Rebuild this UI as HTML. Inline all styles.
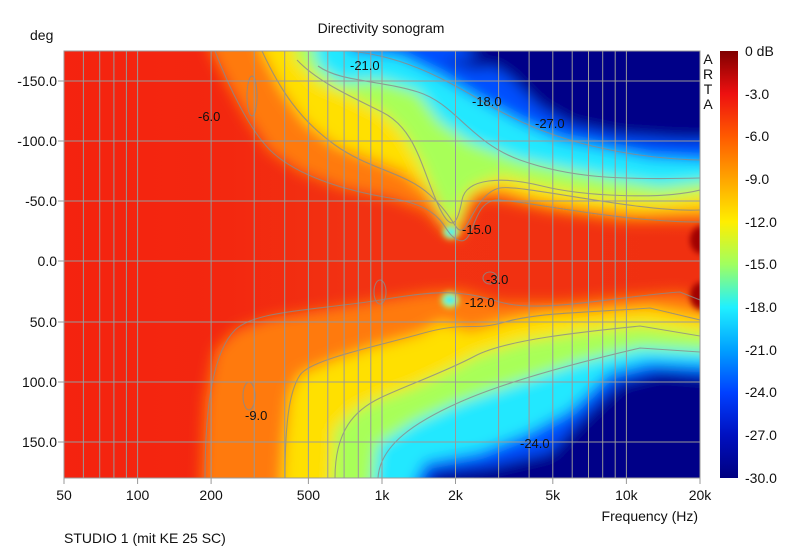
<!DOCTYPE html>
<html><head><meta charset="utf-8"><style>
html,body{margin:0;padding:0;background:#fff;}
svg{display:block;font-family:"Liberation Sans",sans-serif;}
</style></head><body>
<svg width="799" height="550" viewBox="0 0 799 550" xmlns="http://www.w3.org/2000/svg">
<defs>
<clipPath id="pc"><rect x="64" y="51" width="636" height="427"/></clipPath>
<filter id="b" x="-20%" y="-20%" width="140%" height="140%"><feGaussianBlur stdDeviation="7"/></filter>
<filter id="b2" x="-50%" y="-50%" width="200%" height="200%"><feGaussianBlur stdDeviation="3"/></filter>
<linearGradient id="bg" x1="0" x2="1" y1="0" y2="0">
<stop offset="0" stop-color="#f5220f"/><stop offset="0.25" stop-color="#f3270f"/><stop offset="0.45" stop-color="#f23212"/><stop offset="1" stop-color="#f03010"/>
</linearGradient>
<linearGradient id="cb" x1="0" x2="0" y1="0" y2="1">
<stop offset="0" stop-color="#800000"/><stop offset="0.1" stop-color="#ee1010"/><stop offset="0.2" stop-color="#ff5a00"/><stop offset="0.3" stop-color="#ffa500"/><stop offset="0.4" stop-color="#ffee00"/><stop offset="0.5" stop-color="#a0ff60"/><stop offset="0.6" stop-color="#20f0ff"/><stop offset="0.7" stop-color="#00a0ff"/><stop offset="0.8" stop-color="#0040ff"/><stop offset="0.9" stop-color="#0010c0"/><stop offset="1" stop-color="#000080"/>
</linearGradient>
</defs>
<g clip-path="url(#pc)">
<rect x="40" y="30" width="700" height="470" fill="url(#bg)"/>
<g filter="url(#b)">
<polygon fill="#ff7a0a" points="205,20 210,51 225,80 245,115 268,150 300,172 340,188 390,198 425,212 445,232 458,240 466,220 475,198 500,200 550,212 620,222 700,222 730,222 730,20"/>
<polygon fill="#ff7a0a" points="200,510 205,400 215,350 235,330 270,318 320,310 380,300 430,292 460,290 500,302 560,302 620,296 680,292 730,308 730,510"/>
<polygon fill="#ffe000" points="255,20 262,51 282,90 305,122 335,145 375,160 405,172 430,195 447,228 460,232 466,212 478,192 500,188 535,200 585,208 640,213 700,210 730,210 730,20"/>
<polygon fill="#ffe000" points="280,510 285,440 290,395 300,375 330,362 370,348 420,334 442,322 470,332 505,322 545,314 600,312 650,308 730,322 730,510"/>
<polygon fill="#a8ff58" points="290,20 297,60 318,82 350,96 382,112 402,132 420,162 436,200 450,226 458,222 462,200 474,186 502,176 542,186 600,196 660,200 730,190 730,20"/>
<polygon fill="#a8ff58" points="330,510 335,430 355,410 380,398 410,388 445,372 475,356 520,342 580,332 640,326 730,336 730,510"/>
<polygon fill="#20e8ff" points="308,20 318,66 340,82 380,80 418,92 440,122 470,142 520,160 570,170 620,180 660,186 730,178 730,20"/>
<polygon fill="#20e8ff" points="370,510 378,445 415,422 460,402 520,382 580,362 640,348 730,352 730,510"/>
<polygon fill="#0050ff" points="340,20 350,51 400,56 440,76 480,100 520,122 560,140 610,150 650,158 730,162 730,20"/>
<polygon fill="#0050ff" points="400,510 425,462 480,452 530,432 570,410 610,372 650,362 730,366 730,510"/>
<polygon fill="#000088" points="440,20 470,51 510,78 540,108 572,126 620,136 680,140 730,140 730,20"/>
<polygon fill="#000088" points="440,60 480,58 520,63 475,70"/>
<polygon fill="#000088" points="420,510 432,472 490,466 550,452 580,420 620,382 660,372 730,378 730,510"/>
</g>
<g filter="url(#b2)">
<ellipse cx="451" cy="232" rx="8" ry="7" fill="#a8ff58"/>
<ellipse cx="451" cy="232" rx="5" ry="4" fill="#20e8ff"/>
<ellipse cx="450" cy="300" rx="9" ry="8" fill="#a8ff58"/>
<ellipse cx="450" cy="300" rx="6" ry="4" fill="#20e8ff"/>
<ellipse cx="702" cy="240" rx="12" ry="14" fill="#a00000"/>
<ellipse cx="702" cy="296" rx="12" ry="14" fill="#a00000"/>
</g>
<g fill="none" stroke="#8a8a8a" stroke-width="1.1" opacity="0.8">
<path d="M215,51 C230,90 250,130 270,150 S330,188 390,198 S440,232 458,240 S470,198 500,200 S620,222 700,222"/>
<path d="M262,51 C280,90 300,120 335,145 S405,172 430,195 S455,232 462,230 S478,192 500,188 S640,213 700,210"/>
<path d="M297,60 C318,82 350,96 382,112 S420,162 436,200 S458,222 462,200 S502,176 542,186 S660,200 700,190"/>
<path d="M318,66 C340,82 380,80 418,92 S470,142 520,160 S620,180 700,178"/>
<path d="M350,51 C400,56 440,76 480,100 S560,140 610,150 S700,160 700,160"/>
<path d="M205,478 C205,400 215,350 235,330 S320,310 380,300 S460,290 500,302 S620,296 680,292 L700,300"/>
<path d="M285,478 C285,420 290,390 300,375 S370,348 420,334 S470,332 505,322 S600,312 650,308 L700,320"/>
<path d="M335,478 C335,430 355,410 380,398 S445,372 475,356 S580,332 640,326 L700,336"/>
<path d="M378,478 C380,445 415,422 460,402 S580,362 640,348 L700,352"/>
<ellipse cx="252" cy="96" rx="5" ry="20"/>
<ellipse cx="380" cy="292" rx="6" ry="12"/>
<ellipse cx="249" cy="396" rx="6" ry="14"/>
<ellipse cx="490" cy="278" rx="7" ry="6"/>
</g>
</g>
<g stroke="#999" stroke-width="1">
<path d="M83.4,51V478M99.7,51V478M113.9,51V478M126.4,51V478M137.6,51V478M211.1,51V478M254.2,51V478M284.7,51V478M308.4,51V478M327.8,51V478M344.1,51V478M358.3,51V478M370.8,51V478M382,51V478M455.5,51V478M498.6,51V478M529.1,51V478M552.8,51V478M572.2,51V478M588.5,51V478M602.7,51V478M615.2,51V478M626.4,51V478"/>
<path d="M58,81H700M58,141H700M58,201H700M58,261H700M58,322H700M58,382H700M58,442H700"/>
<path d="M64,478V484M137.6,478V484M211.1,478V484M308.4,478V484M382,478V484M455.5,478V484M552.8,478V484M626.4,478V484M700,478V484"/>
</g>
<rect x="64" y="51" width="636" height="427" fill="none" stroke="#999"/>
<g font-size="13" fill="#111">
<text x="350" y="70">-21.0</text>
<text x="472" y="106">-18.0</text>
<text x="198" y="121">-6.0</text>
<text x="535" y="128">-27.0</text>
<text x="462" y="234">-15.0</text>
<text x="486" y="284">-3.0</text>
<text x="465" y="307">-12.0</text>
<text x="245" y="420">-9.0</text>
<text x="520" y="448">-24.0</text>
</g>
<rect x="720" y="51" width="18" height="427" fill="url(#cb)"/>
<g font-size="14" fill="#111">
<text x="745" y="56">0 dB</text>
<text x="745" y="99">-3.0</text>
<text x="745" y="141">-6.0</text>
<text x="745" y="184">-9.0</text>
<text x="745" y="227">-12.0</text>
<text x="745" y="269">-15.0</text>
<text x="745" y="312">-18.0</text>
<text x="745" y="355">-21.0</text>
<text x="745" y="397">-24.0</text>
<text x="745" y="440">-27.0</text>
<text x="745" y="483">-30.0</text>
</g>
<g font-size="14" fill="#111" text-anchor="middle">
<text x="708" y="64">A</text><text x="708" y="79">R</text><text x="708" y="94">T</text><text x="708" y="109">A</text>
</g>
<g font-size="14" fill="#111" text-anchor="end">
<text x="57" y="86">-150.0</text>
<text x="57" y="146">-100.0</text>
<text x="57" y="206">-50.0</text>
<text x="57" y="266">0.0</text>
<text x="57" y="327">50.0</text>
<text x="57" y="387">100.0</text>
<text x="57" y="447">150.0</text>
</g>
<g font-size="14" fill="#111" text-anchor="middle">
<text x="64" y="500">50</text>
<text x="137.6" y="500">100</text>
<text x="211.1" y="500">200</text>
<text x="308.4" y="500">500</text>
<text x="382" y="500">1k</text>
<text x="455.5" y="500">2k</text>
<text x="552.8" y="500">5k</text>
<text x="626.4" y="500">10k</text>
<text x="700" y="500">20k</text>
<text x="381" y="33">Directivity sonogram</text>
</g>
<text x="30" y="40" font-size="14" fill="#111">deg</text>
<text x="698" y="521" font-size="14" fill="#111" text-anchor="end">Frequency (Hz)</text>
<text x="64" y="543" font-size="14" fill="#111">STUDIO 1 (mit KE 25 SC)</text>
</svg>
</body></html>
